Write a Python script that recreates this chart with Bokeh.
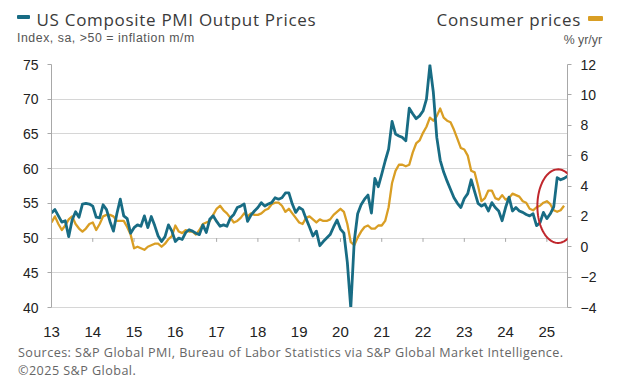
import numpy as np
from bokeh.plotting import figure
from bokeh.layouts import column
from bokeh.models import Range1d, LinearAxis, FixedTicker, PolyAnnotation, Div
from bokeh.embed import file_html
from bokeh.resources import INLINE

# ---------------- data ----------------
tick_years = list(range(2013, 2026))
tick_labels = ["13", "14", "15", "16", "17", "18", "19", "20", "21", "22", "23", "24", "25"]
left_ticks = [40, 45, 50, 55, 60, 65, 70, 75]
right_ticks = [-4, -2, 0, 2, 4, 6, 8, 10, 12]

# US Composite PMI Output Prices (index), monthly from Jan 2013
pmi_2013 = [53.6, 54.1, 53.2, 52.3, 52.5, 50.2, 52.6, 53.8, 53.0, 54.9, 55.0, 54.9]
pmi_2014 = [54.6, 53.0, 52.9, 54.8, 54.1, 52.4, 51.0, 53.5, 55.6, 53.2, 52.8, 50.7]
pmi_2015 = [51.5, 51.9, 51.7, 53.2, 51.5, 53.1, 51.8, 50.3, 49.5, 50.2, 51.9, 51.0]
pmi_2016 = [49.5, 50.0, 49.8, 50.8, 51.2, 51.0, 50.7, 50.5, 51.9, 50.8, 52.7, 53.2]
pmi_2017 = [52.4, 51.7, 51.9, 51.7, 52.9, 53.4, 54.4, 54.6, 54.9, 52.4, 53.3, 53.9]
pmi_2018 = [54.4, 55.1, 54.6, 54.9, 55.1, 55.8, 55.6, 55.8, 56.5, 56.5, 54.9, 53.7]
pmi_2019 = [54.4, 54.1, 52.8, 51.6, 50.3, 51.0, 48.9, 49.5, 50.0, 50.5, 51.6, 52.6]
pmi_2020 = [51.3, 50.7, 46.5, 39.9, 49.5, 53.5, 54.8, 55.6, 56.2, 53.6, 58.6, 57.4]
pmi_2021 = [59.2, 61.1, 62.8, 66.8, 65.0, 64.7, 64.5, 64.0, 68.7, 67.9, 67.2, 67.6]
pmi_2022 = [68.3, 70.0, 74.9, 71.0, 64.5, 61.2, 59.5, 58.2, 57.0, 55.8, 55.0, 54.4]
pmi_2023 = [55.7, 56.4, 58.4, 56.7, 55.0, 54.6, 54.9, 53.9, 55.1, 54.4, 53.9, 52.5]
pmi_2024 = [54.4, 55.9, 53.9, 54.4, 53.9, 53.7, 53.4, 53.2, 53.5, 51.8, 52.2, 53.7]
pmi_2025 = [52.8, 53.5, 54.5, 58.7, 58.4, 58.6, 58.9]

# Consumer prices, % yr/yr, monthly from Jan 2013
cpi_2013 = [1.6, 2.0, 1.5, 1.1, 1.4, 1.8, 2.0, 1.5, 1.2, 1.0, 1.2, 1.5]
cpi_2014 = [1.6, 1.1, 1.5, 2.0, 2.1, 2.1, 2.0, 1.7, 1.7, 1.7, 1.3, 0.8]
cpi_2015 = [-0.1, 0.0, -0.1, -0.2, 0.0, 0.1, 0.2, 0.2, 0.0, 0.2, 0.5, 0.7]
cpi_2016 = [1.4, 1.0, 0.9, 1.1, 1.0, 1.0, 0.8, 1.1, 1.5, 1.6, 1.7, 2.1]
cpi_2017 = [2.5, 2.7, 2.4, 2.2, 1.9, 1.6, 1.7, 1.9, 2.2, 2.0, 2.2, 2.1]
cpi_2018 = [2.1, 2.2, 2.4, 2.5, 2.8, 2.9, 2.9, 2.7, 2.3, 2.5, 2.2, 1.9]
cpi_2019 = [1.6, 1.5, 1.9, 2.0, 1.8, 1.6, 1.8, 1.7, 1.7, 1.8, 2.1, 2.3]
cpi_2020 = [2.5, 2.3, 1.5, 0.3, 0.1, 0.6, 1.0, 1.3, 1.4, 1.2, 1.2, 1.4]
cpi_2021 = [1.4, 1.7, 2.6, 4.2, 5.0, 5.4, 5.4, 5.3, 5.4, 6.2, 6.8, 7.0]
cpi_2022 = [7.5, 7.9, 8.5, 8.3, 8.6, 9.1, 8.5, 8.3, 8.2, 7.7, 7.1, 6.5]
cpi_2023 = [6.4, 6.0, 5.0, 4.9, 4.0, 3.0, 3.2, 3.7, 3.7, 3.2, 3.1, 3.4]
cpi_2024 = [3.1, 3.2, 3.5, 3.4, 3.3, 3.0, 2.9, 2.5, 2.4, 2.6, 2.7, 2.9]
cpi_2025 = [3.0, 2.8, 2.4, 2.3, 2.4, 2.7]

# highlighted region (annotation ellipse): centre year, centre index value, half-width (years), half-height (index)
highlight = dict(cx=2025.27, cy=54.6, rx=0.5, ry=5.3)

pmi = (pmi_2013 + pmi_2014 + pmi_2015 + pmi_2016 + pmi_2017 + pmi_2018 + pmi_2019
       + pmi_2020 + pmi_2021 + pmi_2022 + pmi_2023 + pmi_2024 + pmi_2025)
cpi = (cpi_2013 + cpi_2014 + cpi_2015 + cpi_2016 + cpi_2017 + cpi_2018 + cpi_2019
       + cpi_2020 + cpi_2021 + cpi_2022 + cpi_2023 + cpi_2024 + cpi_2025)
x_pmi = tick_years[0] + np.arange(len(pmi)) / 12.0
x_cpi = tick_years[0] + np.arange(len(cpi)) / 12.0

TEAL = "#186c84"
GOLD = "#d99e24"
FONT = "Liberation Sans"
TFONT = "'Open Sans'"
W = 620
HEAD = 56
MAIN = 290
FOOT = 385 - HEAD - MAIN


def span(style, s=""):
    return '<span style="position:absolute;white-space:nowrap;line-height:1;%s">%s</span>' % (style, s)


# ---------------- header ----------------
head_html = (
    '<div style="position:relative;width:%dpx;height:%dpx;font-family:%s;">' % (W, HEAD, TFONT)
    + span("left:17px;top:14.5px;width:12.5px;height:4.5px;background:%s;border-radius:1px;" % TEAL)
    + span("left:36.5px;top:11.4px;font-size:17px;letter-spacing:0.7px;color:#3a3a3a;",
           "US Composite PMI Output Prices")
    + span("left:17px;top:32.2px;font-family:'Liberation Sans';font-size:12.3px;letter-spacing:0.55px;color:#555555;",
           "Index, sa, &gt;50 = inflation m/m")
    + span("right:39px;top:11.4px;font-size:17px;letter-spacing:0.7px;color:#3a3a3a;", "Consumer prices")
    + span("left:588px;top:16px;width:14.5px;height:4.5px;background:%s;border-radius:1px;" % GOLD)
    + span("right:18px;top:34.4px;font-family:'Liberation Sans';font-size:12.3px;color:#555555;", "% yr/yr")
    + "</div>"
)
header = Div(text=head_html, width=W, height=HEAD, margin=0)

# ---------------- main chart ----------------
p = figure(width=W, height=MAIN, output_backend="svg", toolbar_location=None,
           x_range=Range1d(2013, 2025.5), y_range=Range1d(40, 75),
           min_border_left=51, min_border_right=53, min_border_top=8, min_border_bottom=MAIN - 8 - 243)
p.outline_line_color = None
p.extra_y_ranges = {"cpi": Range1d(-4, 12)}

p.xgrid.visible = False
p.ygrid.ticker = FixedTicker(ticks=left_ticks)
p.ygrid.grid_line_color = "#d6d6d6"
p.ygrid.grid_line_width = 1

la = p.yaxis[0]
la.ticker = FixedTicker(ticks=left_ticks)
la.axis_line_color = "#a8a8a8"
la.major_tick_line_color = "#a8a8a8"
la.major_tick_in = 0
la.major_tick_out = 4
la.minor_tick_line_color = None
la.major_label_standoff = 9
la.major_label_text_font = FONT
la.major_label_text_font_size = "14px"
la.major_label_text_color = "#222222"

ra = LinearAxis(y_range_name="cpi", ticker=FixedTicker(ticks=right_ticks))
ra.axis_line_color = "#a8a8a8"
ra.major_tick_line_color = "#a8a8a8"
ra.major_tick_in = 0
ra.major_tick_out = 4
ra.minor_tick_line_color = None
ra.major_label_standoff = 9
ra.major_label_text_font = FONT
ra.major_label_text_font_size = "14px"
ra.major_label_text_color = "#222222"
p.add_layout(ra, "right")

xa = p.xaxis[0]
xa.ticker = FixedTicker(ticks=tick_years)
xa.major_label_overrides = {y: l for y, l in zip(tick_years, tick_labels)}
xa.axis_line_color = "#d6d6d6"
xa.major_tick_line_color = None
xa.minor_tick_line_color = None
xa.major_label_standoff = 13
xa.major_label_text_font = FONT
xa.major_label_text_font_size = "15px"
xa.major_label_text_color = "#222222"

p.segment(x0=tick_years[1:], y0=[50] * (len(tick_years) - 1),
          x1=tick_years[1:], y1=[49.45] * (len(tick_years) - 1),
          line_color="#a8a8a8", line_width=1)

p.line(x_cpi, cpi, y_range_name="cpi", line_color=GOLD, line_width=2.3, line_join="round")
p.line(x_pmi, pmi, line_color=TEAL, line_width=2.8, line_join="round")

t = np.linspace(0, 2 * np.pi, 90)
p.add_layout(PolyAnnotation(xs=list(highlight["cx"] + highlight["rx"] * np.cos(t)),
                            ys=list(highlight["cy"] + highlight["ry"] * np.sin(t)),
                            fill_color=None, fill_alpha=0, line_color="#c0272d",
                            line_alpha=1.0, line_width=2))

# ---------------- footer ----------------
foot_html = (
    '<div style="position:relative;width:%dpx;height:%dpx;font-family:%s;font-size:12.6px;letter-spacing:0.45px;color:#666666;">' % (W, FOOT, TFONT)
    + span("left:18px;top:1.3px;", "Sources: S&amp;P Global PMI, Bureau of Labor Statistics via S&amp;P Global Market Intelligence.")
    + span("left:18px;top:19px;", "&copy;2025 S&amp;P Global.")
    + "</div>"
)
footer = Div(text=foot_html, width=W, height=FOOT, margin=0)

layout = column(header, p, footer, spacing=0)
open("out.html", "w").write(file_html(layout, INLINE))
